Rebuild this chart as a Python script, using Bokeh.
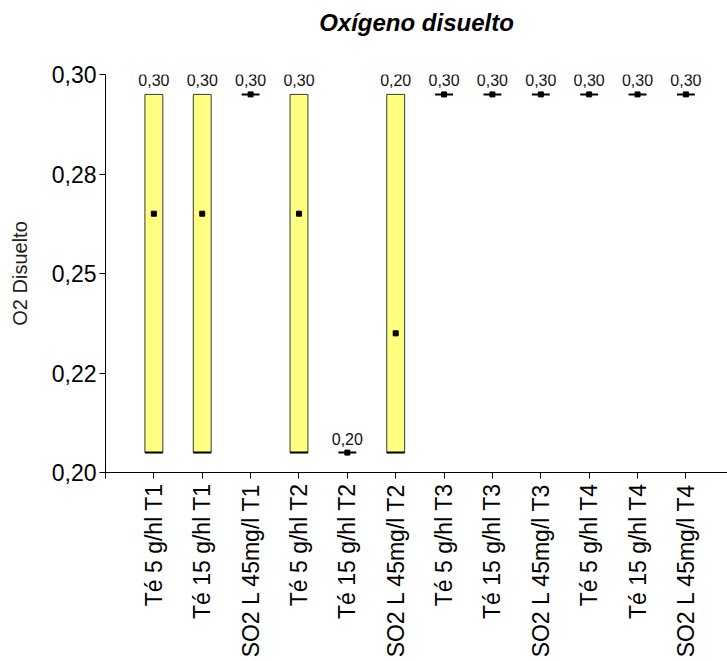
import numpy as np
from bokeh.plotting import figure
from bokeh.models import Range1d, FixedTicker, ColumnDataSource, Title
from bokeh.embed import file_html
from bokeh.resources import INLINE
from bokeh.core.properties import value

# ---- data ----
categories = ["Té 5 g/hl T1", "Té 15 g/hl T1", "SO2 L 45mg/l T1",
              "Té 5 g/hl T2", "Té 15 g/hl T2", "SO2 L 45mg/l T2",
              "Té 5 g/hl T3", "Té 15 g/hl T3", "SO2 L 45mg/l T3",
              "Té 5 g/hl T4", "Té 15 g/hl T4", "SO2 L 45mg/l T4"]
mins = [0.20, 0.20, 0.30, 0.20, 0.20, 0.20, 0.30, 0.30, 0.30, 0.30, 0.30, 0.30]
maxs = [0.30, 0.30, 0.30, 0.30, 0.20, 0.30, 0.30, 0.30, 0.30, 0.30, 0.30, 0.30]
means = [0.2667, 0.2667, 0.30, 0.2667, 0.20, 0.2333, 0.30, 0.30, 0.30, 0.30, 0.30, 0.30]
medians = [0.30, 0.30, 0.30, 0.30, 0.20, 0.20, 0.30, 0.30, 0.30, 0.30, 0.30, 0.30]
y_tick_labels = ["0,20", "0,22", "0,25", "0,28", "0,30"]
title_text = "Oxígeno disuelto"
y_title = "O2 Disuelto"

FONT = "Liberation Sans"
xs = list(range(1, len(categories) + 1))
bw = 0.37

lo, hi = min(mins), max(maxs)
pad = (hi - lo) / 18.0
ylo, yhi = lo - pad, hi + pad

p = figure(width=727, height=661, output_backend="svg", toolbar_location=None,
           title=None,
           x_range=Range1d(0, 12.86), y_range=Range1d(ylo, yhi),
           min_border_left=105, min_border_right=0, min_border_top=0,
           min_border_bottom=189)
p.outline_line_color = None
p.xgrid.visible = False
p.ygrid.visible = False
p.background_fill_color = "white"
p.border_fill_color = "white"

# spacer between frame and title (added first -> closest to the frame)
p.add_layout(Title(text=" ", text_font_size="1px", standoff=29), "above")
p.add_layout(Title(text=title_text, align="center", text_font=FONT,
                   text_font_size="24px", text_font_style="bold italic",
                   text_color="black", standoff=13), "above")

# boxes (only where there is spread)
box_idx = [i for i in range(len(xs)) if maxs[i] > mins[i]]
bsrc = ColumnDataSource(dict(
    left=[xs[i] - bw / 2 for i in box_idx], right=[xs[i] + bw / 2 for i in box_idx],
    bottom=[mins[i] for i in box_idx], top=[maxs[i] for i in box_idx]))
p.quad(left="left", right="right", bottom="bottom", top="top", source=bsrc,
       fill_color="#FFFF80", line_color="#3a3a3a", line_width=1)

# thick line at the minimum of each group
p.segment(x0=[x - bw / 2 for x in xs], x1=[x + bw / 2 for x in xs], y0=mins, y1=mins,
          line_color="black", line_width=2)

# mean markers
p.scatter(xs, means, marker="square", size=5, fill_color="black", line_color="black")

# median labels
p.text(x=xs, y=maxs, text=[f"{m:.2f}".replace(".", ",") for m in medians],
       text_font=value(FONT), text_font_size="16px", text_color="#111111",
       text_align="center", text_baseline="bottom", y_offset=-8)

# axes
ticks_y = list(np.linspace(ylo, yhi, len(y_tick_labels)))
p.yaxis.ticker = FixedTicker(ticks=ticks_y)
p.yaxis.major_label_overrides = {float(t): l for t, l in zip(ticks_y, y_tick_labels)}
p.yaxis.minor_tick_line_color = None
p.yaxis.major_tick_out = 6
p.yaxis.major_tick_in = 0
p.yaxis.major_label_standoff = 3
p.yaxis.major_label_text_font = FONT
p.yaxis.major_label_text_font_size = "23px"
p.yaxis.major_label_text_color = "black"
p.yaxis.axis_label = y_title
p.yaxis.axis_label_text_font = FONT
p.yaxis.axis_label_text_font_size = "20px"
p.yaxis.axis_label_text_font_style = "normal"
p.yaxis.axis_label_text_color = "#222222"
p.yaxis.axis_label_standoff = 18
p.yaxis.axis_line_color = "black"

p.xaxis.ticker = FixedTicker(ticks=[0] + xs)
overrides = {0: ""}
overrides.update({x: c for x, c in zip(xs, categories)})
p.xaxis.major_label_overrides = overrides
p.xaxis.major_label_orientation = np.pi / 2
p.xaxis.minor_tick_line_color = None
p.xaxis.major_tick_out = 6
p.xaxis.major_tick_in = 0
p.xaxis.major_label_standoff = 5
p.xaxis.major_label_text_font = FONT
p.xaxis.major_label_text_font_size = "23px"
p.xaxis.major_label_text_color = "black"
p.xaxis.axis_line_color = "black"

open("out.html", "w").write(file_html(p, INLINE))
